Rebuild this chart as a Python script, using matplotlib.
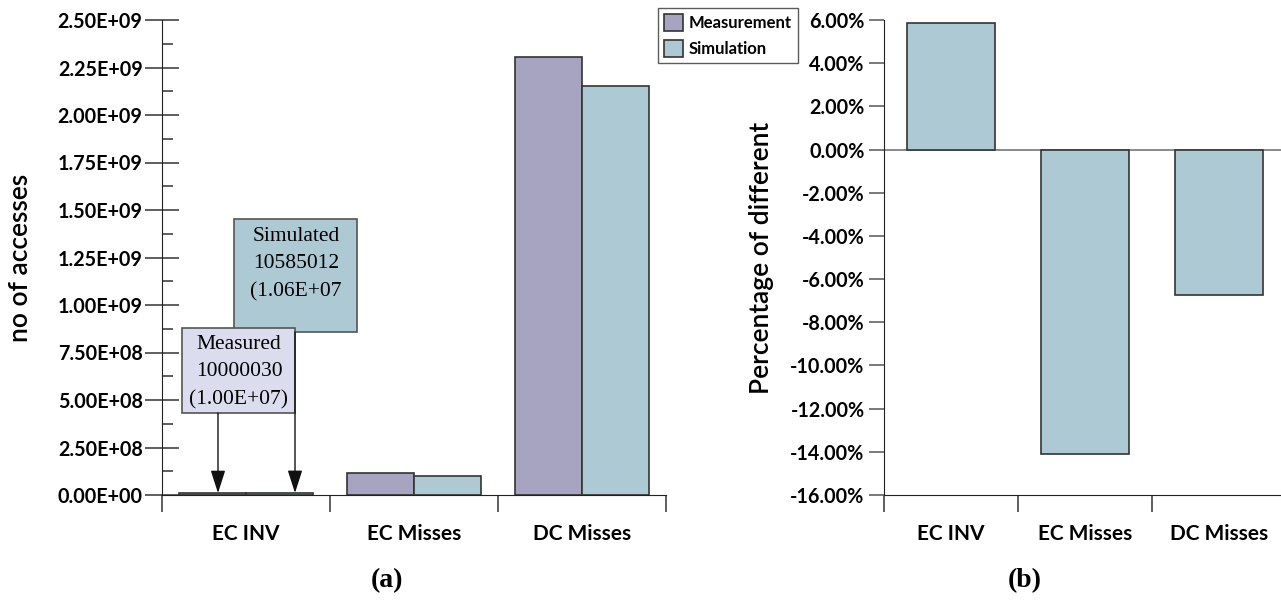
import matplotlib.pyplot as plt
import numpy as np
from matplotlib.patches import Rectangle
from matplotlib.ticker import MultipleLocator, FuncFormatter

# data
categories = ['EC INV', 'EC Misses', 'DC Misses']
measurement = [1.0000030e7, 1.17e8, 2.305e9]
simulation = [1.0585012e7, 1.005e8, 2.151e9]
pct_diff = [5.85, -14.1, -6.72]

c_meas = '#a7a4c1'
c_sim = '#adc9d4'
edge = '#333333'

plt.rcParams['font.family'] = ['Lato', 'DejaVu Sans']
plt.rcParams['font.weight'] = 'bold'

fig = plt.figure(figsize=(12.81, 6.01), dpi=100)

# ---------------- (a) ----------------
ax1 = fig.add_axes([162/1281, 106/601, 504/1281, 475/601])
x = np.arange(len(categories))
w = 0.4
ax1.bar(x + 0.5 - w/2, measurement, w, color=c_meas, edgecolor=edge, linewidth=1.2,
        label='Measurement')
ax1.bar(x + 0.5 + w/2, simulation, w, color=c_sim, edgecolor=edge, linewidth=1.2,
        label='Simulation')
ax1.set_xlim(0, 3)
ax1.set_ylim(0, 2.5e9)
ax1.spines['top'].set_visible(False)
ax1.spines['right'].set_visible(False)
for s in ['left', 'bottom']:
    ax1.spines[s].set_color('#222222')
ax1.yaxis.set_major_locator(MultipleLocator(2.5e8))
ax1.yaxis.set_minor_locator(MultipleLocator(1.25e8))
ax1.yaxis.set_major_formatter(FuncFormatter(lambda v, p: ('%.2E' % v)))
ax1.tick_params(axis='y', which='major', direction='inout', length=24, width=1.1,
                labelsize=14.2, pad=2, color='#333333')
ax1.tick_params(axis='y', which='minor', direction='in', length=8, width=1.1, color='#333333')
ax1.set_xticks(np.arange(0, 4))
ax1.set_xticklabels([])
ax1.set_xticks(x + 0.5, minor=True)
ax1.set_xticklabels(categories, minor=True)
ax1.tick_params(axis='x', which='major', direction='out', length=12, width=1.1, color='#333333')
ax1.tick_params(axis='x', which='minor', length=0, labelsize=15, pad=21)
ax1.set_ylabel('no of accesses', fontsize=19, fontweight='semibold', labelpad=18)

leg = ax1.legend(loc='upper left', bbox_to_anchor=(496/504, 1.025), fontsize=12,
                 frameon=True, fancybox=False, edgecolor='#333333', handlelength=1.15,
                 handleheight=1.15, handletextpad=0.35, borderpad=0.35, labelspacing=0.55,
                 borderaxespad=0)
leg.get_frame().set_linewidth(1.0)
for h in leg.legend_handles:
    h.set_edgecolor(edge)

# annotation boxes
serif = ['Liberation Serif', 'DejaVu Serif']
ax1.add_patch(Rectangle((72/504, 163/475), 123/504, 113/475, transform=ax1.transAxes,
                        facecolor=c_sim, edgecolor='#555555', linewidth=1.2, zorder=3,
                        clip_on=False))
ax1.text(134/504, 268/475, 'Simulated\n10585012\n(1.06E+07', transform=ax1.transAxes,
         ha='center', va='top', fontsize=15.5, family=serif, fontweight='normal',
         linespacing=1.6, zorder=4)
ax1.add_patch(Rectangle((20/504, 82/475), 113/504, 85/475, transform=ax1.transAxes,
                        facecolor='#dcdcef', edgecolor='#555555', linewidth=1.2, zorder=5,
                        clip_on=False))
ax1.text(77/504, 123/475, 'Measured\n10000030\n(1.00E+07)', transform=ax1.transAxes,
         ha='center', va='center', fontsize=15.5, family=serif, fontweight='normal',
         linespacing=1.6, zorder=6)
arrow = dict(arrowstyle='-|>,head_length=1.4,head_width=0.45', color='#111111', lw=1.0,
             shrinkA=0, shrinkB=0)
# arrows drop straight down from the boxes onto the EC INV bars
arrow_x = [56/168, 133/168]
ax1.annotate('', xy=(arrow_x[0], measurement[0]), xycoords='data',
             xytext=(arrow_x[0], 82/475), textcoords=('data', 'axes fraction'),
             arrowprops=arrow, zorder=7)
ax1.annotate('', xy=(arrow_x[1], simulation[0]), xycoords='data',
             xytext=(arrow_x[1], 163/475), textcoords=('data', 'axes fraction'),
             arrowprops=arrow, zorder=7)

fig.text(387/1281, 1 - 581/601, '(a)', ha='center', va='center', fontsize=20,
         family=serif, fontweight='bold')

# ---------------- (b) ----------------
ax2 = fig.add_axes([884/1281, 106/601, 402/1281, 475/601])
ax2.bar(x + 0.5, pct_diff, 0.66, color=c_sim, edgecolor=edge, linewidth=1.2)
ax2.axhline(0, color='#777777', lw=1.2, zorder=0)
ax2.set_xlim(0, 3)
ax2.set_ylim(-16, 6)
ax2.spines['top'].set_visible(False)
ax2.spines['right'].set_visible(False)
for s in ['left', 'bottom']:
    ax2.spines[s].set_color('#222222')
ax2.yaxis.set_major_locator(MultipleLocator(2))
ax2.yaxis.set_major_formatter(FuncFormatter(lambda v, p: '%.2f%%' % v))
ax2.tick_params(axis='y', direction='out', length=11, width=1.1, labelsize=14.2, pad=3,
                color='#555555')
ax2.set_xticks(np.arange(0, 4))
ax2.set_xticklabels([])
ax2.set_xticks(x + 0.5, minor=True)
ax2.set_xticklabels(categories, minor=True)
ax2.tick_params(axis='x', which='major', direction='out', length=12, width=1.1, color='#333333')
ax2.tick_params(axis='x', which='minor', length=0, labelsize=15, pad=21)
ax2.set_ylabel('Percentage of different', fontsize=19, fontweight='semibold', labelpad=12)

fig.text(1025/1281, 1 - 581/601, '(b)', ha='center', va='center', fontsize=20,
         family=serif, fontweight='bold')

fig.savefig('out.png', dpi=100)
